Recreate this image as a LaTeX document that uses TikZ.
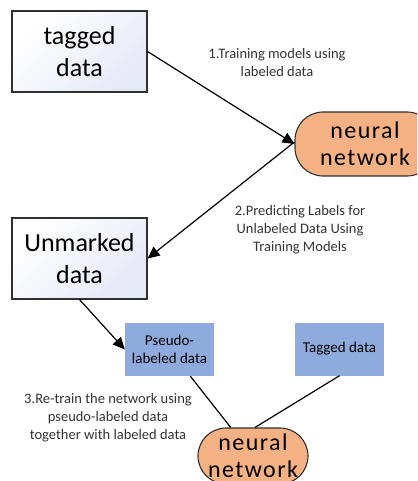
\documentclass[tikz,border=0pt]{standalone}
\usepackage{fontspec}
\setmainfont{Carlito}
\usetikzlibrary{arrows.meta}
\definecolor{netorange}{HTML}{F4B183}
\definecolor{pseudoblue}{HTML}{8FAADC}
\definecolor{boxtint}{HTML}{E6E9F6}
\definecolor{edgegray}{HTML}{303030}
\definecolor{labelgray}{HTML}{333333}
\tikzset{
  databox/.style={draw=edgegray, line width=1.1pt, top color=white, bottom color=boxtint, shading angle=45,
    minimum width=135pt, minimum height=81pt, inner sep=0pt, align=center,
    font=\fontsize{26}{32}\selectfont},
  netbox/.style={draw=edgegray, line width=1.1pt, fill=netorange, rounded corners=28pt,
    inner sep=0pt, align=center, font=\fontsize{24}{27}\selectfont\addfontfeature{LetterSpace=6}},
  smallbox/.style={fill=pseudoblue, minimum width=89pt, minimum height=53pt, inner sep=0pt,
    align=center, font=\fontsize{15}{18}\selectfont},
  steplabel/.style={align=center, text=labelgray, font=\fontsize{14.5}{18}\selectfont},
  arrowline/.style={line width=1.2pt, -{Triangle[length=12pt,width=11pt]}},
  plainline/.style={line width=1.2pt}
}
\begin{document}
\begin{tikzpicture}[x=1pt,y=-1pt]
\useasboundingbox (0,0) rectangle (417,481);
\clip (0,0) rectangle (417,481);
\node[databox] (tagged) at (79.5,51.5) {tagged\\data};
\node[netbox, minimum width=140pt, minimum height=64pt] (topnet) at (365,144) {neural\\network};
\node[databox] (unmarked) at (79.5,258.5) {Unmarked\\data};
\node[smallbox] (pseudo) at (169.5,349.5) {Pseudo-\\labeled data};
\node[smallbox] (taggedsmall) at (339.5,349) {Tagged data};
\node[netbox, minimum width=110pt, minimum height=56pt] (botnet) at (253,456) {neural\\network};
\node[steplabel] (lab1) at (277,63) {1.Training models using\\labeled data};
\node[steplabel] (lab2) at (300,230) {2.Predicting Labels for\\Unlabeled Data Using\\Training Models};
\node[steplabel] (lab3) at (108,418) {3.Re-train the network using\\pseudo-labeled data\\together with labeled data};
\draw[arrowline] (tagged.east) -- (topnet.west);
\draw[arrowline] ([yshift=2pt]topnet.west) -- (unmarked.east);
\draw[arrowline] (unmarked.south) -- (pseudo.west);
\draw[plainline] (pseudo.-52) -- (botnet.128);
\draw[plainline] (taggedsmall.south) -- ([xshift=2pt]botnet.north);
\end{tikzpicture}
\end{document}
